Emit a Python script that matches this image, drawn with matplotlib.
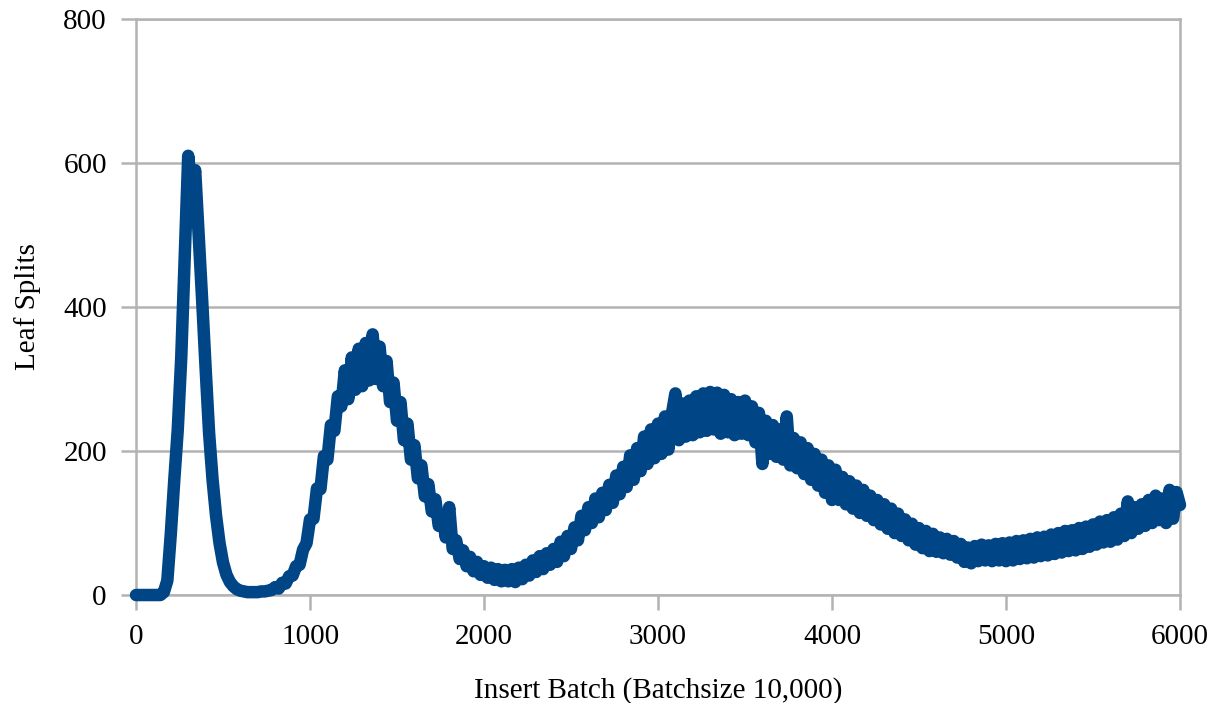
import numpy as np
from matplotlib import pyplot as plt

plt.rcParams['font.family'] = ['Liberation Serif', 'DejaVu Serif']

# Leaf splits per insert batch, every 20 batches
batch = np.arange(0, 6001, 20)
leaf_splits = [
    0, 0, 0, 0, 0, 0, 0, 0, 4, 20,
    85, 160, 230, 330, 470, 610, 560, 590, 500, 410,
    315, 225, 160, 110, 72, 45, 28, 18, 12, 8,
    6, 5, 4, 4, 4, 4, 5, 5, 6, 7,
    11, 9, 17, 16, 26, 27, 40, 42, 63, 72,
    105, 106, 148, 147, 193, 188, 236, 228, 276, 262,
    312, 272, 330, 285, 342, 290, 350, 298, 362, 300,
    345, 290, 325, 268, 295, 242, 268, 215, 238, 188,
    208, 162, 180, 137, 154, 116, 133, 96, 112, 80,
    122, 64, 76, 50, 62, 40, 53, 33, 46, 28,
    40, 24, 38, 21, 36, 19, 35, 19, 36, 18,
    38, 22, 42, 27, 48, 32, 54, 36, 58, 42,
    64, 46, 74, 54, 82, 64, 94, 76, 110, 90,
    122, 100, 134, 108, 142, 118, 153, 128, 166, 140,
    178, 150, 194, 160, 204, 172, 220, 182, 230, 190,
    238, 196, 248, 202, 252, 280, 215, 266, 220, 270,
    222, 276, 226, 280, 228, 282, 230, 281, 224, 278,
    226, 272, 222, 268, 224, 270, 222, 262, 212, 253,
    182, 242, 196, 236, 192, 230, 188, 248, 180, 218,
    176, 212, 168, 204, 160, 196, 152, 188, 142, 180,
    132, 174, 132, 164, 126, 158, 120, 152, 114, 146,
    110, 138, 104, 132, 98, 126, 92, 120, 86, 113,
    82, 105, 76, 99, 70, 93, 65, 89, 61, 85,
    60, 80, 58, 78, 56, 75, 52, 71, 46, 66,
    44, 68, 47, 70, 48, 69, 47, 71, 48, 72,
    47, 73, 48, 75, 50, 76, 51, 78, 52, 80,
    54, 81, 55, 84, 57, 86, 59, 89, 61, 90,
    62, 93, 64, 95, 67, 98, 70, 102, 73, 104,
    74, 108, 77, 113, 82, 130, 86, 122, 92, 126,
    96, 132, 100, 138, 104, 134, 100, 146, 106, 143,
    125,
]

x_ticks = [0, 1000, 2000, 3000, 4000, 5000, 6000]
y_ticks = [0, 200, 400, 600, 800]

grey = '#b3b3b3'

fig = plt.figure(figsize=(12.09, 7.03), dpi=100)
ax = fig.add_axes([0.1125, 0.1536, 0.8635, 0.8194])

ax.plot(batch, leaf_splits, color='#004586', lw=9,
        solid_joinstyle='round', solid_capstyle='round', clip_on=False, zorder=3)

ax.set_xlim(0, 6000)
ax.set_ylim(0, 800)
ax.set_xticks(x_ticks)
ax.set_yticks(y_ticks)

ax.yaxis.grid(True, color=grey, lw=1.8)
ax.set_axisbelow(True)
for side in ['left', 'bottom', 'right', 'top']:
    ax.spines[side].set_color(grey)
    ax.spines[side].set_linewidth(1.8)

ax.tick_params(direction='out', length=11, width=1.8, color=grey,
               labelsize=21, pad=10)

ax.set_xlabel('Insert Batch (Batchsize 10,000)', fontsize=21, labelpad=19)
ax.set_ylabel('Leaf Splits', fontsize=21, labelpad=16)

fig.savefig('out.png', dpi=100)
